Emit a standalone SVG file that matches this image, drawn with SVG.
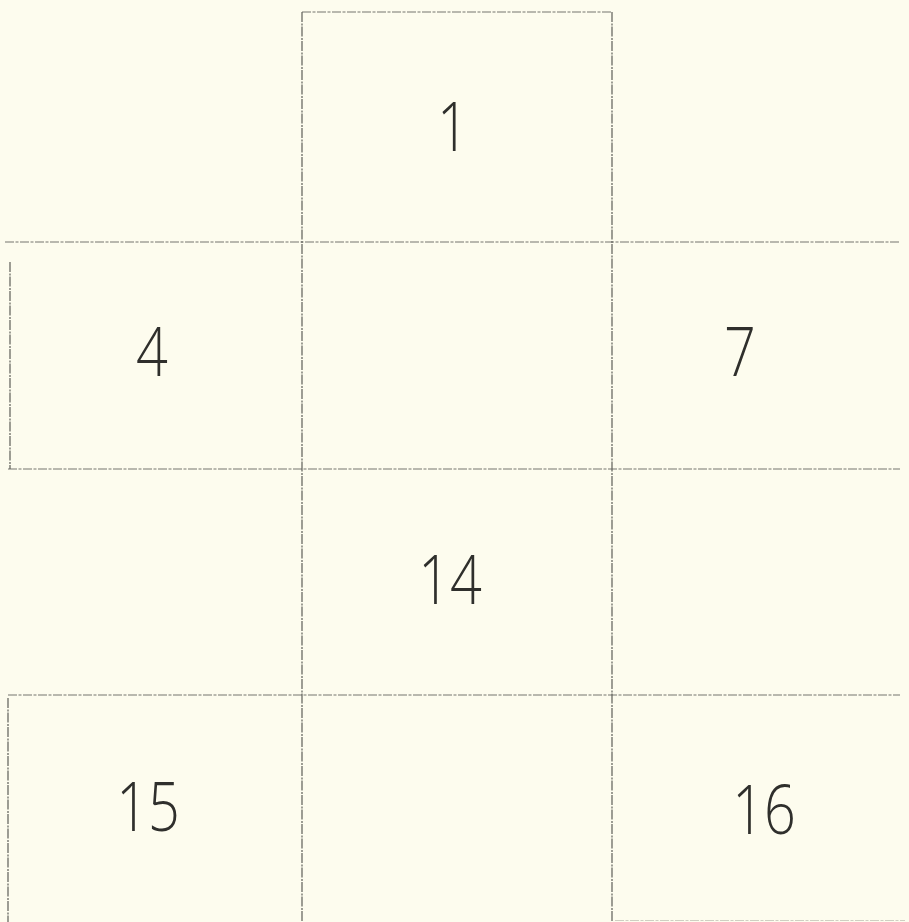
<svg xmlns="http://www.w3.org/2000/svg" width="909" height="922" viewBox="0 0 909 922">
<style>
.ln{stroke:#75756e;stroke-width:1;fill:none;stroke-dasharray:9 1.5 3 1.5}
.lv{stroke:#5e5e58;stroke-width:1.2;fill:none;stroke-dasharray:10 1.5 2 1}
.num{font-family:"Open Sans","Liberation Sans",sans-serif;font-weight:300;font-size:68px;fill:#2f2f2c;text-anchor:middle}
</style>
<rect width="909" height="922" fill="#fdfcee"/>
<g id="connectors">
<line class="ln" x1="302" y1="12" x2="612" y2="12"/>
<line class="ln" x1="5" y1="242" x2="900" y2="242"/>
<line class="ln" x1="8" y1="469" x2="900" y2="469"/>
<line class="ln" x1="8" y1="695" x2="900" y2="695"/>
<line class="lv" x1="302" y1="12" x2="302" y2="922"/>
<line class="lv" x1="612" y1="12" x2="612" y2="922"/>
<line class="lv" x1="10" y1="262" x2="10" y2="469"/>
<line class="lv" x1="8" y1="698" x2="8" y2="922"/>
<line class="ln" x1="615" y1="920.5" x2="905" y2="920.5" style="stroke:#cfcfc2"/>
</g>
<g id="n1"><text class="num" transform="translate(453 151) scale(0.82 1)">1</text></g>
<g id="n4"><text class="num" transform="translate(152 376) scale(0.82 1)">4</text></g>
<g id="n7"><text class="num" transform="translate(740 376) scale(0.82 1)">7</text></g>
<g id="n14"><text class="num" transform="translate(450 604) scale(0.82 1)">14</text></g>
<g id="n15"><text class="num" transform="translate(148 831) scale(0.82 1)">15</text></g>
<g id="n16"><text class="num" transform="translate(764 834) scale(0.82 1)">16</text></g>
</svg>
